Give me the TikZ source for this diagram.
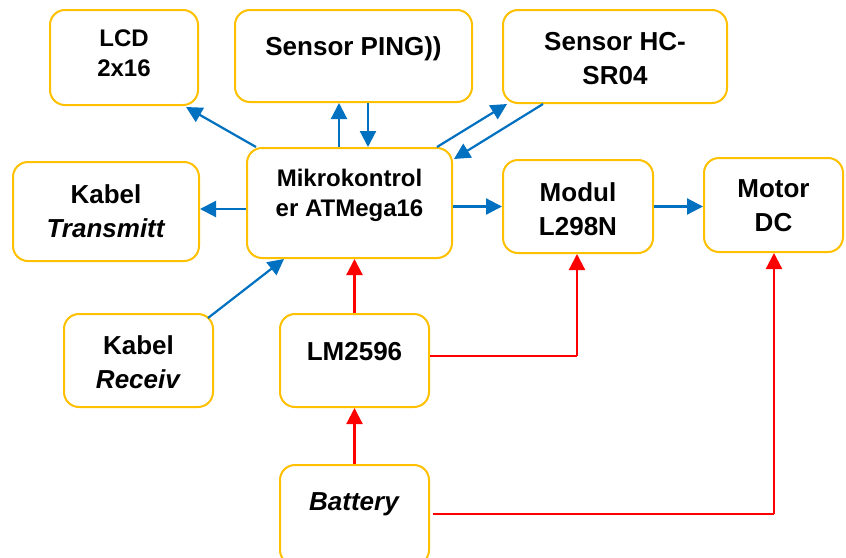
\documentclass[tikz,border=0pt]{standalone}
\usepackage{fontspec}
\setmainfont{Liberation Sans}
\usetikzlibrary{arrows.meta,calc}
\definecolor{boxorange}{HTML}{FFC000}
\definecolor{lineblue}{HTML}{0070C0}
\definecolor{linered}{HTML}{FF0000}
\begin{document}
\begin{tikzpicture}[x=1pt,y=-1pt,
  blockbox/.style={draw=boxorange,line width=2pt,rounded corners=15pt,rectangle,inner sep=0pt},
  lbl/.style={font=\bfseries\fontsize{26}{34}\selectfont,align=center,inner sep=0pt},
  lblsmall/.style={font=\bfseries\fontsize{24}{30}\selectfont,align=center,inner sep=0pt},
  barrow/.style={draw=lineblue,line width=2.2pt,-{Triangle[length=16pt,width=16pt]}},
  rarrow/.style={draw=linered,line width=2.2pt,-{Triangle[length=16pt,width=16pt]}},
  rthin/.style={draw=linered,line width=1.4pt}]
\useasboundingbox (0,0) rectangle (846,557);
\fill[white] (0,0) rectangle (846,557);
% boxes
\node[blockbox,minimum width=148pt,minimum height=95pt] (lcd) at (124,57.5) {};
\node[blockbox,minimum width=237pt,minimum height=92pt] (ping) at (353.5,56) {};
\node[blockbox,minimum width=224pt,minimum height=93pt] (hc) at (615,56.5) {};
\node[blockbox,minimum width=186pt,minimum height=99pt] (tx) at (106,211.5) {};
\node[blockbox,minimum width=205pt,minimum height=110pt] (mcu) at (349.5,203) {};
\node[blockbox,minimum width=150pt,minimum height=93pt] (modul) at (578,206.5) {};
\node[blockbox,minimum width=139pt,minimum height=94pt] (motor) at (773.5,205) {};
\node[blockbox,minimum width=149pt,minimum height=93pt] (rx) at (138.5,360.5) {};
\node[blockbox,minimum width=149pt,minimum height=93pt] (lm) at (354.5,360.5) {};
\node[blockbox,minimum width=149pt,minimum height=100pt] (bat) at (354.5,515) {};
% texts
\node[lblsmall] (tlcd) at (124,53) {LCD\\2x16};
\node[lbl] (tping) at (353.5,49) {Sensor PING))};
\node[lbl] (thc) at (615,58.5) {Sensor HC-\\SR04};
\node[lbl] (ttx) at (106,211) {Kabel\\\textit{Transmitt}};
\node[lblsmall] (tmcu) at (349.5,195) {Mikrokontrol\\er ATMega16};
\node[lbl] (tmodul) at (578,209) {Modul\\L298N};
\node[lbl] (tmotor) at (773.5,205.5) {Motor\\DC};
\node[lbl] (trx) at (138.5,362) {Kabel\\\textit{Receiv}};
\node[lbl] (tlm) at (354.5,352) {LM2596};
\node[lbl] (tbat) at (354.5,504) {\textit{Battery}};
% blue connectors
\draw[barrow] ($(mcu.north west)+(10,0)$) -- ($(lcd.south east)+(-13,1)$);
\draw[barrow] ($(mcu.north)+(-10.5,0)$) -- ($(ping.south)+(-14.5,0)$);
\draw[barrow] ($(ping.south)+(14.5,0)$) -- ($(mcu.north)+(18.5,0)$);
\draw[barrow] ($(mcu.north east)+(-16,0)$) -- ($(hc.south west)+(5,0)$);
\draw[barrow] ($(hc.south west)+(41,0)$) -- ($(mcu.north east)+(1,12)$);
\draw[barrow] ($(mcu.west)+(0,6)$) -- (tx.east |- {$(mcu.west)+(0,6)$});
\draw[barrow] ($(rx.north east)+(-6,5)$) -- ($(mcu.south west)+(38,0)$);
\draw[barrow] (mcu.east |- modul.west) -- (modul.west);
\draw[barrow] (modul.east) -- (motor.west |- modul.east);
% red connectors
\draw[rarrow] (lm.north) -- (lm.north |- mcu.south);
\draw[rarrow] (bat.north) -- (lm.south);
\coordinate (c1) at (577,356);
\coordinate (c2) at (774,514);
\draw[rthin] (lm.east |- c1) -- (c1);
\draw[rarrow] (c1) -- (c1 |- modul.south);
\draw[rthin] ($(bat.east |- c2)+(3,0)$) -- (c2);
\draw[rarrow] (c2) -- (c2 |- motor.south);
\end{tikzpicture}
\end{document}
